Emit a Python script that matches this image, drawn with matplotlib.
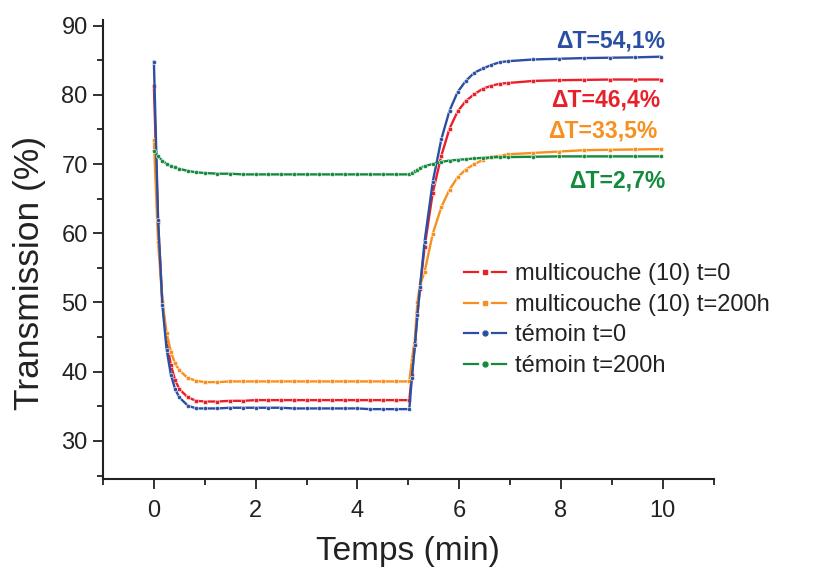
import matplotlib
matplotlib.use("Agg")
import matplotlib.pyplot as plt
from matplotlib.lines import Line2D
from matplotlib.legend_handler import HandlerTuple
from matplotlib.ticker import MultipleLocator

# temps de mesure (min)
t = [0, 0.083, 0.167, 0.25, 0.333, 0.417, 0.5, 0.667, 0.833, 1.0,
     1.25, 1.5, 1.75, 2.0, 2.25, 2.5, 2.75, 3.0, 3.25, 3.5, 3.75, 4.0,
     4.25, 4.5, 4.75, 5.02,
     5.07, 5.13, 5.18, 5.23, 5.32, 5.48, 5.65, 5.81, 5.97, 6.13, 6.3,
     6.47, 6.63, 6.8, 6.96, 7.46, 7.96, 8.46, 8.96, 9.46, 9.96]

multi_t0 = [81.3, 61.6, 50.0, 44.5, 41.0, 38.8, 37.5, 36.3, 35.8, 35.7,
            35.7, 35.8, 35.8, 35.9, 35.9, 35.9, 35.9, 35.9, 35.9, 35.9, 35.9, 35.9,
            35.9, 35.9, 35.9, 35.9,
            39.5, 44.0, 48.3, 52.0, 58.0, 65.8, 71.2, 75.1, 77.6, 79.1, 80.1,
            80.9, 81.3, 81.6, 81.7, 82.0, 82.1, 82.15, 82.2, 82.2, 82.2]

multi_t200 = [73.4, 58.7, 50.2, 45.6, 42.9, 41.2, 40.2, 39.1, 38.7, 38.5,
              38.5, 38.6, 38.6, 38.6, 38.6, 38.6, 38.6, 38.6, 38.6, 38.6, 38.6, 38.6,
              38.6, 38.6, 38.6, 38.6,
              41.7, 44.8, 50.1, 52.5, 54.4, 59.9, 63.8, 66.3, 68.1, 69.2, 70.0,
              70.6, 71.0, 71.2, 71.4, 71.6, 71.8, 72.0, 72.05, 72.1, 72.15]

temoin_t0 = [84.8, 61.9, 49.6, 43.2, 39.6, 37.5, 36.3, 35.1, 34.7, 34.7,
             34.7, 34.8, 34.8, 34.8, 34.8, 34.8, 34.7, 34.7, 34.7, 34.7, 34.7, 34.7,
             34.6, 34.6, 34.6, 34.6,
             39.1, 43.8, 48.2, 52.2, 58.8, 67.4, 73.6, 77.7, 80.4, 82.0, 83.2,
             83.8, 84.3, 84.7, 84.85, 85.1, 85.2, 85.3, 85.35, 85.4, 85.5]

temoin_t200 = [71.9, 71.1, 70.5, 70.0, 69.7, 69.5, 69.3, 69.0, 68.8, 68.7,
               68.6, 68.6, 68.5, 68.5, 68.5, 68.5, 68.5, 68.5, 68.5, 68.5, 68.5, 68.5,
               68.5, 68.5, 68.5, 68.5,
               68.7, 69.0, 69.2, 69.4, 69.7, 70.0, 70.3, 70.5, 70.6, 70.7, 70.8,
               70.9, 70.95, 71.0, 71.0, 71.05, 71.1, 71.1, 71.1, 71.1, 71.1]

labels = ["multicouche (10) t=0", "multicouche (10) t=200h",
          "témoin t=0", "témoin t=200h"]
deltas = ["ΔT=54,1%", "ΔT=46,4%", "ΔT=33,5%", "ΔT=2,7%"]

RED = "#e8202a"
ORANGE = "#f7901e"
BLUE = "#2b4fa2"
GREEN = "#138a3d"
INK = "#222222"

plt.rcParams["font.family"] = ["Liberation Sans", "DejaVu Sans"]

fig = plt.figure(figsize=(8.13, 5.71), dpi=100)
ax = fig.add_axes([0.1267, 0.161, 0.751, 0.804])

series = [(multi_t0, RED, "s"), (multi_t200, ORANGE, "s"),
          (temoin_t0, BLUE, "o"), (temoin_t200, GREEN, "o")]
for y, c, m in series:
    ax.plot(t, y, color=c, lw=1.7, marker=m, ms=3, mec="white", mew=0.4)

ax.set_xlim(-1, 11)
ax.set_ylim(24.5, 90.8)
ax.xaxis.set_major_locator(MultipleLocator(2))
ax.xaxis.set_minor_locator(MultipleLocator(1))
ax.yaxis.set_major_locator(MultipleLocator(10))
ax.yaxis.set_minor_locator(MultipleLocator(5))
ax.set_yticks(range(30, 91, 10))

for s in ["top", "right"]:
    ax.spines[s].set_visible(False)
for s in ["left", "bottom"]:
    ax.spines[s].set_linewidth(1.5)
    ax.spines[s].set_color(INK)

ax.tick_params(which="major", direction="out", length=7, width=1.3,
               labelsize=17, colors=INK, pad=4)
ax.tick_params(which="minor", direction="out", length=4, width=1.3, colors=INK)
ax.tick_params(axis="x", pad=8)

ax.set_xlabel("Temps (min)", fontsize=24, color=INK, labelpad=10)
fig.text(30 / 813, 1 - 273 / 571, "Transmission (%)", fontsize=25.5, color=INK,
         rotation=90, ha="center", va="center")

# annotations ΔT
ax.text(10.05, 87.8, deltas[0], color=BLUE, fontsize=16.5, fontweight="bold",
        ha="right", va="center")
ax.text(9.95, 79.2, deltas[1], color=RED, fontsize=16.5, fontweight="bold",
        ha="right", va="center")
ax.text(9.9, 74.7, deltas[2], color=ORANGE, fontsize=16.5, fontweight="bold",
        ha="right", va="center")
ax.text(10.05, 67.5, deltas[3], color=GREEN, fontsize=16.5, fontweight="bold",
        ha="right", va="center")

# légende : tiret - point - tiret
handles = []
for _, c, m in series:
    dash = Line2D([], [], color=c, lw=1.6)
    dot = Line2D([], [], color=c, lw=0, marker=m, ms=3.5, mec=c)
    handles.append((dash, dot, dash))
ax.legend(handles, labels, loc="upper left", bbox_to_anchor=(0.592, 0.47),
          frameon=False, fontsize=17, handlelength=1.78, handletextpad=0.34,
          labelspacing=0.36, borderaxespad=0, borderpad=0, numpoints=1,
          labelcolor=INK, handler_map={tuple: HandlerTuple(ndivide=3, pad=0)})

fig.savefig("out.png", dpi=100)
